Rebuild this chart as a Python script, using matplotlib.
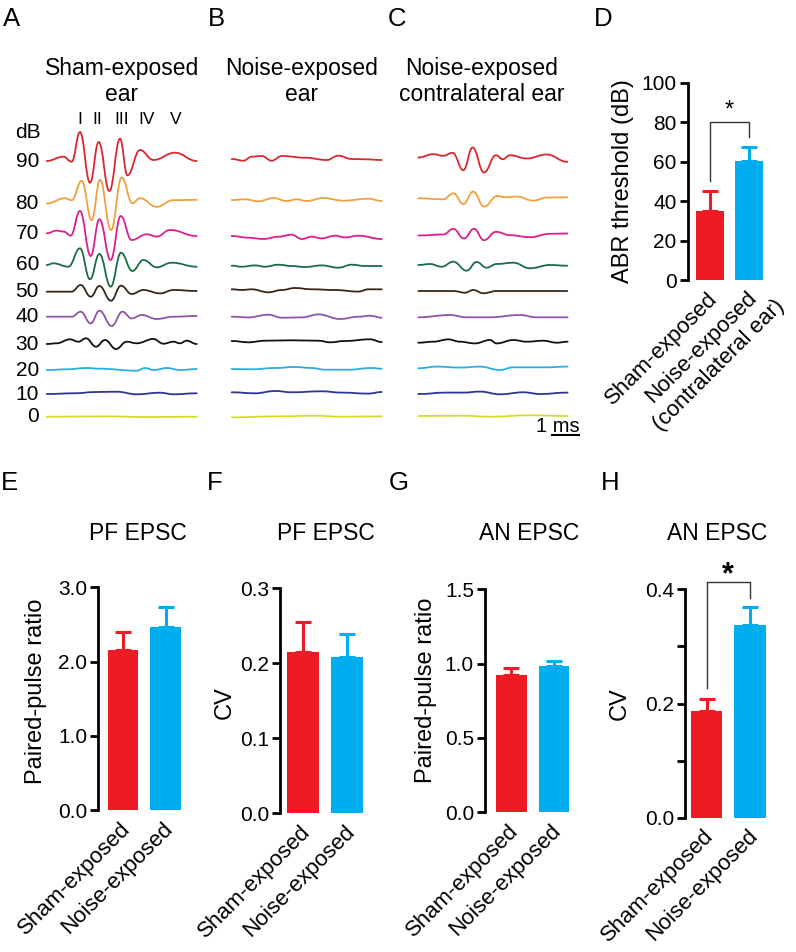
import numpy as np
import matplotlib
matplotlib.use('Agg')
import matplotlib.pyplot as plt
from matplotlib.path import Path
from matplotlib.patches import PathPatch

plt.rcParams['font.family'] = ['Liberation Sans', 'DejaVu Sans']

# ---------------- ABR traces (time units, amplitude) ----------------
levels = [90, 80, 70, 60, 50, 40, 30, 20, 10, 0]
UNITS_PER_MS = 27.5   # time units per 1 ms (scale bar)

# A: sham-exposed ear
sham_90 = [(0, 0), (16.7, 4.3), (25, -0.7), (33.3, 29), (43.3, -21.7), (52, 19), (62.7, -30),
           (73.3, 22.3), (80.7, -14.3), (93.3, 11), (106.7, 1), (128.3, 8.3), (150, 0)]
sham_80 = [(0, 0), (18.3, 5.3), (25, 3.3), (35, 22.7), (45, -16.7), (53.3, 23.7), (64.3, -26.7),
           (75, 26), (85.7, 0.3), (93.3, 5.3), (110, -3.3), (126.7, 3.3), (150, 3.7)]
sham_70 = [(0, 0), (10, 2.7), (17, 1.7), (24, -2.3), (33.3, 22.3), (44, -22.7), (52.7, 14), (64, -26.7),
           (74, 17.3), (85, -6.7), (100, -1), (110, -3.3), (123.3, 3.3), (150, -2.7)]
sham_60 = [(0, 0), (6.7, 1.7), (21.7, -1.7), (33.3, 16.7), (43.3, -14.3), (52.7, 11), (64, -21.7),
           (74.3, 12.3), (85.7, -6), (96.7, 5), (110, -2.3), (125, 2.3), (150, -1.7)]
sham_50 = [(0, 0), (25, 0), (34, 6.7), (44, -5), (52.7, 5.7), (64.3, -9), (74.3, 6), (85, -2.3),
           (96.7, 1.7), (113.3, -1.7), (126.7, 1.7), (150, 0.7)]
sham_40 = [(0, 0), (25, 0), (34, 5), (44, -6.7), (52.7, 6), (65, -9.3), (75.7, 5), (85, -1.7),
           (95, 1.7), (110, -2.3), (126.7, 0), (150, 0.7)]
sham_30 = [(0, 0), (10, 0.7), (23.3, 4.7), (31.7, 2.3), (39.3, 5.7), (49.3, -2.7), (58.3, 4), (69.3, -5),
           (80, 2.3), (90, 0.7), (106.7, 5), (116.7, 0.3), (126.7, 2.3), (133.3, 0.7), (140, 3.3), (150, 0)]
sham_20 = [(0, 0), (20, 0.7), (40, 2), (53, 1.3), (90, -0.7), (98.3, 2), (107, 0), (120, 2), (133.3, 0), (150, 1)]
sham_10 = [(0, 0), (27, 0.7), (50, 2), (70, 2.3), (90, -0.3), (113.3, 1.3), (126.7, -0.3), (150, 0.7)]
sham_0 = [(0, 0), (60, 0.3), (100, -0.3), (150, 0)]

# B: noise-exposed ear
noise_90 = [(0, 0), (11.7, -1.7), (20, 2.3), (30, 3), (40, -1.7), (50, 3), (73.3, 1.3), (95, -1),
            (106.7, 3.3), (120, 0), (133.3, -0.3), (150, -1)]
noise_80 = [(0, 0), (13.3, 0.7), (26.7, -1.3), (41.7, 2), (55, -1), (65, 0.7), (75, -1), (91.7, 2),
            (111.7, -0.7), (136.7, 1.3), (150, -1)]
noise_70 = [(0, 0.7), (16.7, -1), (31.7, -2.3), (46.7, 0), (60, 2), (70, -2.3), (80, 0), (90, -1.7),
            (103.3, 1), (113.3, -0.7), (126.7, 1), (150, -2.3)]
noise_60 = [(0, 0), (10, -1), (23.3, 0.3), (33.3, -1), (46.7, 1), (60, -0.3), (73.3, -1.3), (90, 0.3),
            (106.7, -2), (120, 1), (133.3, -0.3), (150, -0.3)]
noise_50 = [(0, 0), (10, -0.7), (20, 0), (36.7, -3), (50, -0.7), (63.3, 1.3), (80, 0), (103.3, -0.7),
            (126.7, -2.3), (136.7, 0), (150, 0)]
noise_40 = [(0, 0), (16.7, -0.7), (36.7, 2), (50, -1), (70, -0.7), (86.7, 2.3), (108.3, -2.3),
            (126.7, 0), (138.3, 1), (150, -1)]
noise_30 = [(0, 0), (16.7, -1.3), (33.3, 0.3), (60, 0.7), (86.7, 0.3), (98.3, -1.3), (113.3, 0),
            (138.3, 1.7), (150, -1)]
noise_20 = [(0, 0), (20, -0.3), (43.3, 1), (63.3, 2), (80, 1), (93.3, -0.7), (116.7, -0.7), (140, 1), (150, 0.3)]
noise_10 = [(0, 0), (23.3, -1), (43.3, 1.3), (60, 0), (90, 1), (110, -0.3), (136.7, -1.3), (150, 0.3)]
noise_0 = [(0, -0.7), (43.3, 0.3), (83.3, 1), (110, 0), (150, 0.3)]

# C: noise-exposed contralateral ear
contra_90 = [(0, 0), (15, 3.3), (25, 1.7), (34.3, 4.7), (45, -12.7), (54.3, 10), (65.7, -15), (77.7, 2.3),
             (84.3, -1.7), (91.7, 2.3), (108.3, -1), (128.3, 3), (149, -4.3)]
contra_80 = [(0, 0), (25, -1), (35, 5), (45, -5.7), (55, 6.7), (65.7, -8.3), (79, 2.3), (88, 1),
             (98.3, 1.7), (115, -2.3), (128.3, 0.7), (149, 1)]
contra_70 = [(0, 0), (25, 1), (35, 6.7), (45.7, -3), (55.7, 6.7), (65.7, -4.7), (77.7, 3.7), (91.7, 0.3),
             (111.7, -1.7), (131.7, 1.7), (149, 2)]
contra_60 = [(0, 0), (11.7, 1), (23.3, -1.7), (35, 3.3), (48.3, -5.7), (58.3, 3), (68.3, -2.7), (78.3, 1),
             (95, 2.3), (111.7, -3.3), (131.7, 0), (149, -0.7)]
contra_50 = [(0, 0), (35, 0), (46.7, -1.7), (55, 1), (65, -2.3), (78.3, 0), (149, 0)]
contra_40 = [(0, 0), (31.7, 2.3), (48.3, 0), (71.7, 0), (101.7, 2.3), (118.3, 0), (149.3, 0)]
contra_30 = [(0, 0), (15, 1), (30, 3.3), (41.7, 1), (56.7, -0.7), (71.7, 2.7), (78.3, -0.7), (95, 2.7),
             (108.3, 1), (125, 2), (138.3, 0), (149.3, 1)]
contra_20 = [(0, -1), (18.3, 0.7), (41.7, -0.3), (61.7, 0.7), (81.7, -2.7), (95, 0), (128.3, 0), (149.3, 0.7)]
contra_10 = [(0, -0.7), (28.3, 0.7), (45, 0.7), (61.7, 1.7), (81.7, -1), (105, 1), (121.7, -0.7), (149.3, 0.7)]
contra_0 = [(0, 0), (45, 0.3), (71.7, -0.7), (111.7, 0.7), (149.3, 0)]

sham = [sham_90, sham_80, sham_70, sham_60, sham_50, sham_40, sham_30, sham_20, sham_10, sham_0]
noise = [noise_90, noise_80, noise_70, noise_60, noise_50, noise_40, noise_30, noise_20, noise_10, noise_0]
contra = [contra_90, contra_80, contra_70, contra_60, contra_50, contra_40, contra_30, contra_20, contra_10, contra_0]
wave_names = ['I', 'II', 'III', 'IV', 'V']

# ---------------- bar data ----------------
groups = ['Sham-exposed', 'Noise-exposed']
abr_mean = [35.1, 60.5]
abr_sem = [10.0, 7.1]
pf_ppr_mean = [2.15, 2.47]
pf_ppr_sem = [0.25, 0.26]
pf_cv_mean = [0.215, 0.209]
pf_cv_sem = [0.040, 0.030]
an_ppr_mean = [0.924, 0.986]
an_ppr_sem = [0.044, 0.032]
an_cv_mean = [0.1875, 0.338]
an_cv_sem = [0.0205, 0.031]

# ---------------- styles / layout ----------------
trace_colors = ['#d8282e', '#f0a03c', '#dc1e8c', '#1b6c46', '#3a2619',
                '#8d55a6', '#111111', '#2aaee2', '#2f3590', '#d4dc2a']
base_a = [161, 203.5, 233.3, 265, 291.7, 316.7, 344, 370, 394, 416.7]
base_b = [159, 200, 236.7, 265.7, 289.3, 316.7, 341, 369, 392.3, 416.7]
base_c = [157.5, 198.3, 235.5, 265, 291, 317.3, 342.7, 367.3, 393.3, 416]
RED = '#ed1c24'
BLUE = '#00aeef'

W, H = 796, 952
fig = plt.figure(figsize=(W / 100, H / 100), dpi=100)


def px_axes(x0, y0, x1, y1):
    return fig.add_axes([x0 / W, 1 - y1 / H, (x1 - x0) / W, (y1 - y0) / H])


def ftext(x, y, s, **kw):
    fig.text(x / W, 1 - y / H, s, **kw)


def draw_trace(ax, pts, base, color):
    t = [p[0] for p in pts]
    v = [base - p[1] for p in pts]
    verts = [(t[0], v[0])]
    codes = [Path.MOVETO]
    for i in range(len(t) - 1):
        dx = t[i + 1] - t[i]
        verts += [(t[i] + 0.42 * dx, v[i]), (t[i + 1] - 0.42 * dx, v[i + 1]), (t[i + 1], v[i + 1])]
        codes += [Path.CURVE4] * 3
    ax.add_patch(PathPatch(Path(verts, codes), fill=False, edgecolor=color, lw=1.3,
                           capstyle='round', joinstyle='round', clip_on=False))


def trace_panel(x0, traces, bases):
    ax = px_axes(x0, 120, x0 + 150, 440)
    ax.set_xlim(0, 150)
    ax.set_ylim(440, 120)
    ax.axis('off')
    for tr, b, c in zip(traces, bases, trace_colors):
        draw_trace(ax, tr, b, c)
    return ax


ax_a = trace_panel(46.7, sham, base_a)
ax_b = trace_panel(231.7, noise, base_b)
ax_c = trace_panel(418.3, contra, base_c)

# dB labels
ftext(28, 133, 'dB', fontsize=15, ha='center', va='center')
for lv, b in zip(levels, base_a):
    ftext(39, b, str(lv), fontsize=15, ha='right', va='center')
# wave labels
for name, x in zip(wave_names, [80, 97.3, 121.5, 146.7, 175.7]):
    ftext(x, 120, name, fontsize=12.5, ha='center', va='center')

# scale bar
ax_c.plot([133.4, 133.4 + UNITS_PER_MS], [435, 435], color='k', lw=1.5, clip_on=False)
ax_c.text(133.4 + UNITS_PER_MS, 427, '1 ms', fontsize=14.5, ha='right', va='center')

# panel titles
ftext(122, 81.5, 'Sham-exposed\near', fontsize=16.5, ha='center', va='center', linespacing=1.15)
ftext(302, 81.5, 'Noise-exposed\near', fontsize=16.5, ha='center', va='center', linespacing=1.15)
ftext(482, 81.5, 'Noise-exposed\ncontralateral ear', fontsize=16.5, ha='center', va='center',
      linespacing=1.15)

# panel letters
for letter, x, y in [('A', 11.5, 19), ('B', 216, 19), ('C', 397, 19), ('D', 603.5, 19),
                     ('E', 9, 482.5), ('F', 214.5, 482.5), ('G', 399, 482.5), ('H', 610, 482.5)]:
    ftext(x, y, letter, fontsize=18.5, ha='center', va='center')


def bar_panel(spine_x, rc, bc, zero_y, top_y, top_val, means, sems, yticks, yticklabels,
              ylabel, ylabel_x, ylabel_frac, xlabels):
    u = bc - rc
    xl = (rc - spine_x) / u
    x_right = 1.6
    ax = px_axes(spine_x, top_y, rc + x_right * u, zero_y)
    ax.set_xlim(-xl, x_right)
    ax.set_ylim(0, top_val)
    ax.bar([0, 1], means, 0.72, color=[RED, BLUE], zorder=2)
    for i, (m, s, c) in enumerate(zip(means, sems, [RED, BLUE])):
        ax.errorbar(i, m, yerr=[[0], [s]], fmt='none', ecolor=c, elinewidth=2.2,
                    capsize=6, capthick=2.2, zorder=3)
    for sp in ['top', 'right', 'bottom']:
        ax.spines[sp].set_visible(False)
    ax.spines['left'].set_linewidth(2)
    ax.set_xticks([])
    ax.set_yticks(yticks)
    ax.set_yticklabels(yticklabels)
    ax.tick_params(axis='y', direction='out', length=6, width=2, labelsize=15, pad=2)
    ax.set_ylabel(ylabel, fontsize=17, va='center')
    width_px = rc + x_right * u - spine_x
    ax.yaxis.set_label_coords((ylabel_x - spine_x) / width_px, ylabel_frac)
    for i, lab in enumerate(xlabels):
        if '\n' in lab:
            ax.annotate(lab, xy=(i, 0), xycoords=('data', 'axes fraction'), xytext=(5, 2),
                        textcoords='offset points', rotation=45, ha='right', va='top',
                        rotation_mode='anchor', fontsize=16, multialignment='center',
                        linespacing=1.3)
        else:
            ax.annotate(lab, xy=(i, 0), xycoords=('data', 'axes fraction'), xytext=(3, -11),
                        textcoords='offset points', rotation=45, ha='right', va='center',
                        rotation_mode='anchor', fontsize=16)
    return ax


ax_d = bar_panel(687.7, 710.2, 749, 280, 82.7, 100, abr_mean, abr_sem,
                 [0, 20, 40, 60, 80, 100], ['0', '20', '40', '60', '80', '100'],
                 'ABR threshold (dB)', 623, 0.5,
                 ['Sham-exposed', 'Noise-exposed\n(contralateral ear)'])
ax_d.plot([0, 0, 1, 1], [50, 80, 80, 72.6], color='#333333', lw=1, clip_on=False)
ax_d.text(0.5, 86, '*', fontsize=17, ha='center', va='center')

ax_e = bar_panel(98.3, 123.2, 165.5, 810, 587.3, 3.0, pf_ppr_mean, pf_ppr_sem,
                 [0, 1, 2, 3], ['0.0', '1.0', '2.0', '3.0'],
                 'Paired-pulse ratio', 36, 0.535, groups)
ax_f = bar_panel(280, 302.8, 347.2, 813.3, 588.3, 0.3, pf_cv_mean, pf_cv_sem,
                 [0, 0.1, 0.2, 0.3], ['0.0', '0.1', '0.2', '0.3'],
                 'CV', 225, 0.49, groups)
ax_g = bar_panel(485, 511.5, 553.8, 812.3, 589.3, 1.5, an_ppr_mean, an_ppr_sem,
                 [0, 0.5, 1.0, 1.5], ['0.0', '0.5', '1.0', '1.5'],
                 'Paired-pulse ratio', 426, 0.545, groups)
ax_h = bar_panel(685, 706.5, 749.9, 817.7, 589.3, 0.4, an_cv_mean, an_cv_sem,
                 [0, 0.1, 0.2, 0.3, 0.4], ['0.0', '', '0.2', '', '0.4'],
                 'CV', 620, 0.5, groups)
ax_h.plot([0, 0, 1, 1], [0.2267, 0.4124, 0.4124, 0.3855], color='#333333', lw=1, clip_on=False)
ax_h.text(0.5, 0.424, '*', fontsize=22, fontweight='bold', ha='center', va='center', clip_on=False)

# bar panel titles
ftext(137.5, 533, 'PF EPSC', fontsize=16.5, ha='center', va='center')
ftext(325.8, 533, 'PF EPSC', fontsize=16.5, ha='center', va='center')
ftext(529, 533, 'AN EPSC', fontsize=16.5, ha='center', va='center')
ftext(717.5, 533, 'AN EPSC', fontsize=16.5, ha='center', va='center')

fig.savefig('out.png', dpi=100)
